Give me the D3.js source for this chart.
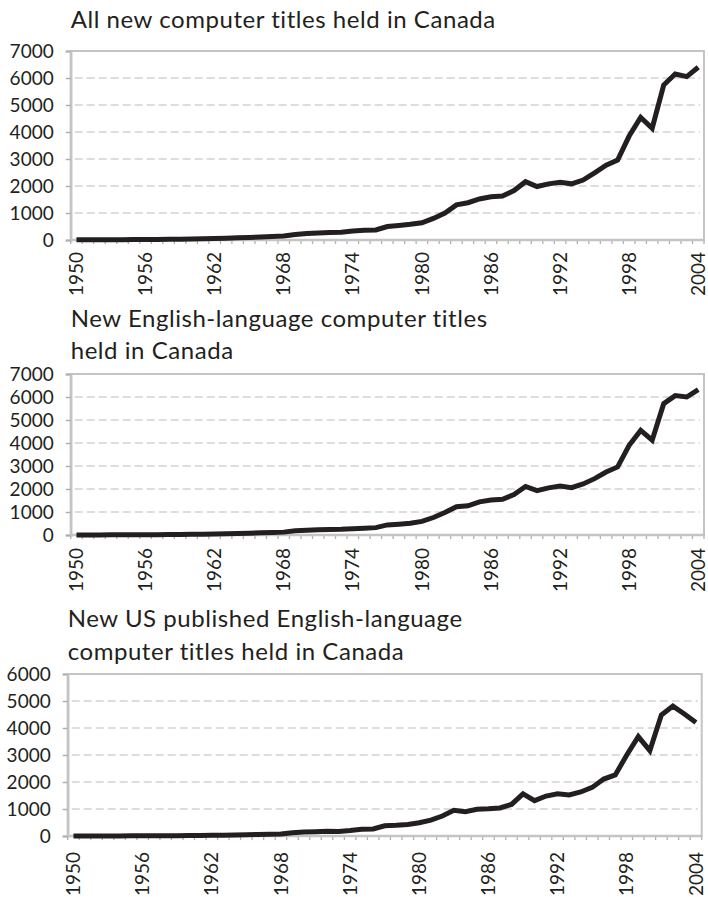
<!DOCTYPE html>
<html>
<head>
<meta charset="utf-8">
<script src="https://cdn.jsdelivr.net/npm/d3@7"></script>
<style>
  body { margin: 0; background: #ffffff; }
  svg text { font-family: Lato, "Open Sans", sans-serif; fill: #231f20; }
  .title { font-size: 24px; letter-spacing: 0.55px; }
  .ticklabel { font-size: 19px; }
</style>
</head>
<body>
<div id="chart"></div>
<script>
// years on the category axis
let years = [1950,1951,1952,1953,1954,1955,1956,1957,1958,1959,
             1960,1961,1962,1963,1964,1965,1966,1967,1968,1969,
             1970,1971,1972,1973,1974,1975,1976,1977,1978,1979,
             1980,1981,1982,1983,1984,1985,1986,1987,1988,1989,
             1990,1991,1992,1993,1994,1995,1996,1997,1998,1999,
             2000,2001,2002,2003,2004];
let yearLabels = [1950,1956,1962,1968,1974,1980,1986,1992,1998,2004];

// all new computer titles held in Canada
let allTitles = [5,5,8,10,12,15,18,20,25,30,
                 38,45,55,65,80,95,110,130,145,200,
                 240,260,275,290,330,360,370,500,540,580,
                 640,800,1000,1300,1380,1520,1600,1630,1830,2160,
                 1980,2080,2140,2080,2220,2490,2770,2960,3850,4540,
                 4140,5740,6150,6050,6400];
// new English-language computer titles
let englishTitles = [3,3,5,7,9,11,13,16,20,25,
                     30,38,45,55,65,80,95,110,125,180,
                     210,225,235,245,270,290,320,440,470,510,
                     590,760,980,1230,1270,1440,1520,1550,1760,2110,
                     1930,2050,2130,2060,2220,2450,2740,2960,3900,4550,
                     4120,5710,6060,6000,6320];
// new US published English-language computer titles
let usTitles = [0,1,2,3,4,5,6,8,10,13,
                16,20,25,30,38,45,55,65,75,120,
                150,160,175,165,200,250,260,380,395,430,
                490,590,740,950,900,990,1010,1040,1170,1560,
                1310,1480,1560,1520,1630,1800,2110,2260,3000,3680,
                3160,4480,4810,4520,4200];

let ticks7000 = [0,1000,2000,3000,4000,5000,6000,7000];
let ticks6000 = [0,1000,2000,3000,4000,5000,6000];

let svg = d3.select("#chart")
    .append("svg")
    .attr("width", 708)
    .attr("height", 897);

function drawChart(values, yTicks, title, opt){
    let x = d3.scaleBand()
        .domain(years)
        .range([opt.left, opt.right])
        .padding(0);
    let y = d3.scaleLinear()
        .domain([0, d3.max(yTicks)])
        .range([opt.bottom, opt.top]);

    let g = svg.append("g");

    // title
    title.forEach(function(t,i){
      g.append("text")
        .attr("class","title")
        .attr("x", opt.left)
        .attr("y", opt.titleY + i*32.5)
        .text(t);
    });

    // dashed grid
    g.selectAll(".grid")
        .data(yTicks.filter(function(d){ return d>0 && d<d3.max(yTicks); }))
      .enter().append("line")
        .attr("x1", opt.left+4)
        .attr("x2", opt.right-4)
        .attr("y1", function(d){ return y(d); })
        .attr("y2", function(d){ return y(d); })
        .attr("stroke","#d2d2d2")
        .attr("stroke-width",1.6)
        .attr("stroke-dasharray","8,4");

    // plot frame
    g.append("rect")
        .attr("x", opt.left)
        .attr("y", opt.top)
        .attr("width", opt.right-opt.left)
        .attr("height", opt.bottom-opt.top)
        .attr("fill","none")
        .attr("stroke","#c4c4c4")
        .attr("stroke-width",2);

    // y axis
    let yAxis = d3.axisLeft(y)
        .tickValues(yTicks)
        .tickSize(5)
        .tickPadding(12)
        .tickFormat(d3.format("d"));
    let ya = g.append("g")
        .attr("transform","translate("+opt.left+",0)")
        .call(yAxis);
    ya.select(".domain").attr("stroke","#c4c4c4").attr("stroke-width",2.5);
    ya.selectAll(".tick line").attr("stroke","#b0b0b0").attr("stroke-width",1.5);
    ya.selectAll(".tick text")
        .attr("class","ticklabel")
        .attr("font-family",null)
        .attr("font-size",null)
        .attr("fill","#231f20");

    // x axis: small ticks on band edges, labels every 6 years
    let edges = years.map(function(d){ return x(d); }).concat([opt.right]);
    g.selectAll(".xtick")
        .data(edges)
      .enter().append("line")
        .attr("x1", function(d){ return d; })
        .attr("x2", function(d){ return d; })
        .attr("y1", opt.bottom)
        .attr("y2", opt.bottom+4)
        .attr("stroke","#b0b0b0")
        .attr("stroke-width",1.3);
    g.append("line")
        .attr("x1", opt.left)
        .attr("x2", opt.right)
        .attr("y1", opt.bottom)
        .attr("y2", opt.bottom)
        .attr("stroke","#c4c4c4")
        .attr("stroke-width",2.5);

    g.selectAll(".xlabel")
        .data(yearLabels)
      .enter().append("text")
        .attr("class","ticklabel")
        .attr("text-anchor","end")
        .attr("dy","0.35em")
        .attr("transform", function(d){
          let cx = x(d) + x.bandwidth()/2;
          return "translate("+cx+","+(opt.bottom+opt.labelGap)+") rotate(-90)";
        })
        .text(function(d){ return d; });

    // series line
    let line = d3.line()
        .x(function(d,i){ return x(years[i]) + x.bandwidth()/2; })
        .y(function(d){ return y(d); });
    g.append("path")
        .datum(values)
        .attr("d", line)
        .attr("fill","none")
        .attr("stroke","#231f20")
        .attr("stroke-width",5)
        .attr("stroke-linejoin","miter");
}

drawChart(allTitles, ticks7000, ["All new computer titles held in Canada"],
  {left:70.7, right:704, top:51, bottom:240, titleY:28, labelGap:12});
drawChart(englishTitles, ticks7000, ["New English-language computer titles","held in Canada"],
  {left:70.7, right:704, top:374, bottom:535, titleY:326.7, labelGap:13});
drawChart(usTitles, ticks6000, ["New US published English-language","computer titles held in Canada"],
  {left:67.7, right:701.7, top:674, bottom:836, titleY:627, labelGap:16});
</script>
</body>
</html>
